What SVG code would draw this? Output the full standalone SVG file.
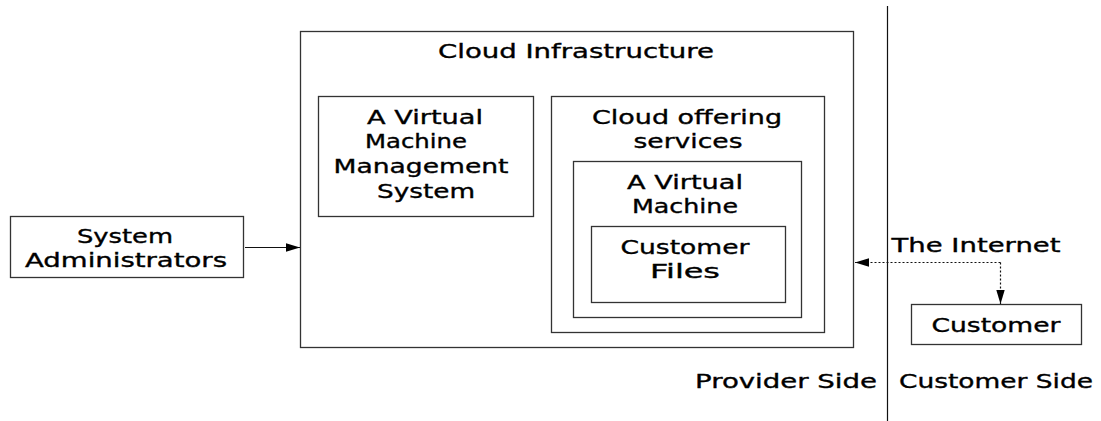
<svg xmlns="http://www.w3.org/2000/svg" width="1101" height="421" viewBox="0 0 1101 421">
  <style>
    .box { fill: #fff; stroke: #333; stroke-width: 1.3; }
    .lbl { font-family: "DejaVu Sans", sans-serif; font-size: 19.5px; fill: #000; stroke: #000; stroke-width: 0.35; text-anchor: middle; }
    .edge { fill: none; stroke: #111; stroke-width: 1.2; }
    .dot { stroke-dasharray: 2 2; }
  </style>
  <defs>
    <marker id="arrow" viewBox="0 0 10 10" refX="10" refY="5" markerWidth="14" markerHeight="14" markerUnits="userSpaceOnUse" orient="auto">
      <path d="M0,2 L10,5 L0,8 Z" fill="#000"/>
    </marker>
  </defs>

  <g id="cloud-infrastructure">
    <rect class="box" x="300.5" y="31.5" width="553" height="316"/>
    <text class="lbl" x="576" y="58" textLength="276" lengthAdjust="spacingAndGlyphs">Cloud Infrastructure</text>
  </g>

  <g id="vm-management">
    <rect class="box" x="318.5" y="96.5" width="215" height="120"/>
    <text class="lbl" x="425" y="124" textLength="116" lengthAdjust="spacingAndGlyphs">A Virtual</text>
    <text class="lbl" x="416" y="148" textLength="102" lengthAdjust="spacingAndGlyphs">Machine</text>
    <text class="lbl" x="421" y="173" textLength="175" lengthAdjust="spacingAndGlyphs">Management</text>
    <text class="lbl" x="426" y="198" textLength="98" lengthAdjust="spacingAndGlyphs">System</text>
  </g>

  <g id="cloud-offering">
    <rect class="box" x="551.5" y="96.5" width="273" height="236"/>
    <text class="lbl" x="687" y="124" textLength="190" lengthAdjust="spacingAndGlyphs">Cloud offering</text>
    <text class="lbl" x="688" y="148" textLength="109" lengthAdjust="spacingAndGlyphs">services</text>
  </g>

  <g id="virtual-machine">
    <rect class="box" x="573.5" y="161.5" width="228" height="156"/>
    <text class="lbl" x="685" y="189" textLength="116" lengthAdjust="spacingAndGlyphs">A Virtual</text>
    <text class="lbl" x="685" y="213" textLength="106" lengthAdjust="spacingAndGlyphs">Machine</text>
  </g>

  <g id="customer-files">
    <rect class="box" x="591.5" y="226.5" width="194" height="76"/>
    <text class="lbl" x="685" y="254" textLength="129" lengthAdjust="spacingAndGlyphs">Customer</text>
    <text class="lbl" x="685" y="278" textLength="70" lengthAdjust="spacingAndGlyphs">Files</text>
  </g>

  <g id="system-administrators">
    <rect class="box" x="10.5" y="216.5" width="233" height="61"/>
    <text class="lbl" x="125" y="243" textLength="96" lengthAdjust="spacingAndGlyphs">System</text>
    <text class="lbl" x="126" y="267" textLength="202" lengthAdjust="spacingAndGlyphs">Administrators</text>
  </g>

  <g id="customer">
    <rect class="box" x="911.5" y="304.5" width="170" height="40"/>
    <text class="lbl" x="996" y="332" textLength="129" lengthAdjust="spacingAndGlyphs">Customer</text>
  </g>

  <g id="labels">
    <text class="lbl" x="976" y="252" textLength="169" lengthAdjust="spacingAndGlyphs">The Internet</text>
    <text class="lbl" x="786" y="388" textLength="182" lengthAdjust="spacingAndGlyphs">Provider Side</text>
    <text class="lbl" x="996" y="388" textLength="194" lengthAdjust="spacingAndGlyphs">Customer Side</text>
  </g>

  <g id="connectors">
    <line class="edge" x1="887.5" y1="6" x2="887.5" y2="421"/>
    <line class="edge" x1="245" y1="247.5" x2="300" y2="247.5" marker-end="url(#arrow)"/>
    <path class="edge dot" d="M1000.5,262.5 H855" marker-end="url(#arrow)"/>
    <path class="edge dot" d="M1000.5,262.5 V304" marker-end="url(#arrow)"/>
  </g>
</svg>
